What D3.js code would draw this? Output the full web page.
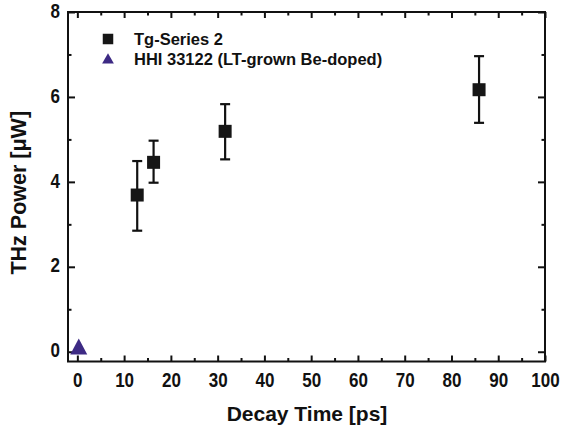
<!DOCTYPE html>
<html>
<head>
<meta charset="utf-8">
<script src="https://cdn.jsdelivr.net/npm/d3@7"></script>
<style>
  body { margin: 0; background: #fff; }
  text { font-family: "Liberation Sans", Arial, sans-serif; font-weight: bold; fill: #111; }
</style>
</head>
<body>
<script>
// Tg-Series 2 (squares with error bars)
var decayTime = [12.8, 16.3, 31.6, 85.9];
var thzPower  = [3.69, 4.46, 5.19, 6.17];
var powerLow  = [2.85, 3.98, 4.53, 5.39];
var powerHigh = [4.49, 4.97, 5.83, 6.96];

// HHI 33122 (triangle)
var hhiTime  = [0.3];
var hhiPower = [0.06];

var xMajor = [0, 10, 20, 30, 40, 50, 60, 70, 80, 90, 100];
var xMinor = [5, 15, 25, 35, 45, 55, 65, 75, 85, 95];
var yMajor = [0, 2, 4, 6, 8];
var yMinor = [1, 3, 5, 7];

var legendNames = ["Tg-Series 2", "HHI 33122 (LT-grown Be-doped)"];

// canvas
var W = 562, H = 432;
var margin = {top: 12, right: 17, bottom: 70.5, left: 68};
var width = W - margin.left - margin.right,
    height = H - margin.top - margin.bottom;

var x = d3.scaleLinear().domain([-2, 100]).range([0, width]);
var y = d3.scaleLinear().domain([-0.23, 8]).range([height, 0]);

var svg = d3.select("body").append("svg")
    .attr("width", W).attr("height", H)
  .append("g")
    .attr("transform", "translate(" + margin.left + "," + margin.top + ")");

// axes with inward ticks
function styleAxis(g) {
  g.select(".domain").remove();
  g.selectAll(".tick line").attr("stroke", "#111").attr("stroke-width", 2);
}

// tick labels are a bit tall and narrow in the original
svg.append("g").attr("transform", "translate(0," + height + ")")
  .call(d3.axisBottom(x).tickValues(xMajor).tickSizeInner(-6).tickSizeOuter(0).tickPadding(9.5))
  .call(styleAxis)
  .selectAll("text").style("font-size", "17px").attr("transform", "scale(1,1.16)");
svg.append("g").attr("transform", "translate(0," + height + ")")
  .call(d3.axisBottom(x).tickValues(xMinor).tickSizeInner(-3.5).tickSizeOuter(0).tickFormat(""))
  .call(styleAxis);

svg.append("g")
  .call(d3.axisTop(x).tickValues(xMajor).tickSizeInner(-6).tickSizeOuter(0).tickFormat(""))
  .call(styleAxis);
svg.append("g")
  .call(d3.axisTop(x).tickValues(xMinor).tickSizeInner(-3.5).tickSizeOuter(0).tickFormat(""))
  .call(styleAxis);

svg.append("g")
  .call(d3.axisLeft(y).tickValues(yMajor).tickSizeInner(-7).tickSizeOuter(0).tickPadding(8))
  .call(styleAxis)
  .selectAll("text").style("font-size", "17px").attr("dy", "0.26em").attr("transform", "scale(1,1.16)");
svg.append("g")
  .call(d3.axisLeft(y).tickValues(yMinor).tickSizeInner(-3.5).tickSizeOuter(0).tickFormat(""))
  .call(styleAxis);

svg.append("g").attr("transform", "translate(" + width + ",0)")
  .call(d3.axisRight(y).tickValues(yMajor).tickSizeInner(-7).tickSizeOuter(0).tickFormat(""))
  .call(styleAxis);
svg.append("g").attr("transform", "translate(" + width + ",0)")
  .call(d3.axisRight(y).tickValues(yMinor).tickSizeInner(-3.5).tickSizeOuter(0).tickFormat(""))
  .call(styleAxis);

// frame
svg.append("rect")
  .attr("width", width).attr("height", height)
  .attr("fill", "none").attr("stroke", "#111").attr("stroke-width", 2);

// axis titles
svg.append("text")
  .attr("x", 239).attr("y", height + 59)
  .attr("text-anchor", "middle")
  .style("font-size", "21px")
  .text("Decay Time [ps]");

svg.append("text")
  .attr("transform", "translate(" + (-42) + "," + (height / 2 + 6) + ") rotate(-90)")
  .attr("text-anchor", "middle")
  .style("font-size", "21.5px")
  .text("THz Power [\u03bcW]");

// error bars
var tg = decayTime.map(function(d, i) {
  return {x: d, y: thzPower[i], lo: powerLow[i], hi: powerHigh[i]};
});

var bars = svg.selectAll(".err").data(tg).enter().append("g").attr("class", "err");
bars.append("line")
  .attr("x1", function(d) { return x(d.x); }).attr("x2", function(d) { return x(d.x); })
  .attr("y1", function(d) { return y(d.lo); }).attr("y2", function(d) { return y(d.hi); })
  .attr("stroke", "#111").attr("stroke-width", 2.2);
bars.append("line")
  .attr("x1", function(d) { return x(d.x) - 5; }).attr("x2", function(d) { return x(d.x) + 5; })
  .attr("y1", function(d) { return y(d.lo); }).attr("y2", function(d) { return y(d.lo); })
  .attr("stroke", "#111").attr("stroke-width", 2.2);
bars.append("line")
  .attr("x1", function(d) { return x(d.x) - 5; }).attr("x2", function(d) { return x(d.x) + 5; })
  .attr("y1", function(d) { return y(d.hi); }).attr("y2", function(d) { return y(d.hi); })
  .attr("stroke", "#111").attr("stroke-width", 2.2);

// squares
svg.selectAll(".sq").data(tg).enter().append("rect")
  .attr("class", "sq")
  .attr("x", function(d) { return x(d.x) - 6.5; })
  .attr("y", function(d) { return y(d.y) - 6.5; })
  .attr("width", 13).attr("height", 13)
  .attr("fill", "#161616");

// triangle
var tri = d3.symbol().type(d3.symbolTriangle).size(125);
svg.selectAll(".tri").data(hhiTime).enter().append("path")
  .attr("class", "tri")
  .attr("d", tri)
  .attr("transform", function(d, i) { return "translate(" + x(d) + "," + y(hhiPower[i]) + ") scale(1,1.1)"; })
  .attr("fill", "#3d2a84");

// legend
var legend = svg.append("g").attr("transform", "translate(40,27)");
legend.append("rect").attr("x", -5.25).attr("y", -5.25).attr("width", 10.5).attr("height", 10.5).attr("fill", "#161616");
legend.append("path").attr("d", d3.symbol().type(d3.symbolTriangle).size(60))
  .attr("transform", "translate(0,21)").attr("fill", "#3d2a84");
legend.selectAll(".lt").data(legendNames).enter().append("text")
  .attr("class", "lt")
  .attr("x", 26)
  .attr("y", function(d, i) { return i * 20 + 6; })
  .style("font-size", "16.5px")
  .text(function(d) { return d; });
</script>
</body>
</html>
